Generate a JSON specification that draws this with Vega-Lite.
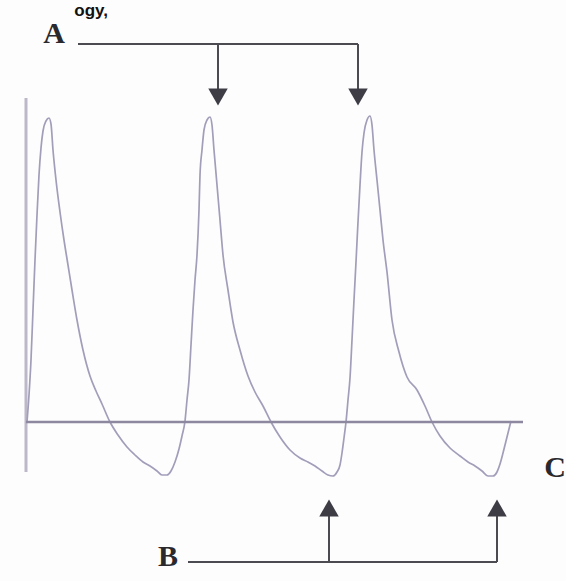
{
  "$schema": "https://vega.github.io/schema/vega-lite/v6.json",
  "width": 566,
  "height": 581,
  "padding": 0,
  "autosize": {"type": "none"},
  "background": "#fdfdfe",
  "config": {"view": {"stroke": null}},
  "datasets": {
    "wave": [
      {"x": 27, "y": 422}, {"x": 29, "y": 395}, {"x": 31, "y": 360}, {"x": 33, "y": 310}, {"x": 35, "y": 260},
      {"x": 37, "y": 215}, {"x": 39, "y": 175}, {"x": 41, "y": 148}, {"x": 43, "y": 131}, {"x": 46, "y": 121},
      {"x": 49, "y": 118}, {"x": 51, "y": 124}, {"x": 53, "y": 150}, {"x": 56, "y": 180}, {"x": 60, "y": 212},
      {"x": 64, "y": 240}, {"x": 68, "y": 265}, {"x": 72, "y": 290}, {"x": 77, "y": 320}, {"x": 83, "y": 350},
      {"x": 90, "y": 376}, {"x": 96, "y": 391}, {"x": 102, "y": 404}, {"x": 110, "y": 422}, {"x": 118, "y": 435},
      {"x": 127, "y": 447}, {"x": 135, "y": 455}, {"x": 143, "y": 462}, {"x": 150, "y": 466}, {"x": 157, "y": 471},
      {"x": 162, "y": 475}, {"x": 167, "y": 475}, {"x": 171, "y": 471}, {"x": 175, "y": 462}, {"x": 179, "y": 449},
      {"x": 182, "y": 436}, {"x": 185, "y": 421}, {"x": 187, "y": 400}, {"x": 189, "y": 380}, {"x": 191, "y": 345},
      {"x": 193, "y": 310}, {"x": 195, "y": 280}, {"x": 197, "y": 255}, {"x": 199, "y": 210}, {"x": 200, "y": 175},
      {"x": 202, "y": 150}, {"x": 204, "y": 130}, {"x": 207, "y": 120}, {"x": 210, "y": 117},
      {"x": 212, "y": 125}, {"x": 214, "y": 150}, {"x": 217, "y": 185}, {"x": 220, "y": 220}, {"x": 223, "y": 255},
      {"x": 228, "y": 290}, {"x": 233, "y": 322}, {"x": 240, "y": 350}, {"x": 248, "y": 376}, {"x": 255, "y": 392},
      {"x": 263, "y": 406}, {"x": 271, "y": 422}, {"x": 280, "y": 437}, {"x": 290, "y": 450}, {"x": 300, "y": 458},
      {"x": 308, "y": 462}, {"x": 315, "y": 466}, {"x": 322, "y": 471}, {"x": 328, "y": 475}, {"x": 333, "y": 476},
      {"x": 337, "y": 472}, {"x": 340, "y": 465}, {"x": 342, "y": 453}, {"x": 344, "y": 438}, {"x": 346, "y": 422},
      {"x": 348, "y": 400}, {"x": 350, "y": 378}, {"x": 352, "y": 340}, {"x": 354, "y": 300}, {"x": 356, "y": 262},
      {"x": 358, "y": 222}, {"x": 360, "y": 185}, {"x": 362, "y": 152}, {"x": 364, "y": 133}, {"x": 367, "y": 120},
      {"x": 370, "y": 116},
      {"x": 372, "y": 125}, {"x": 374, "y": 150}, {"x": 377, "y": 180}, {"x": 380, "y": 210}, {"x": 383, "y": 240},
      {"x": 387, "y": 272}, {"x": 392, "y": 320}, {"x": 399, "y": 352}, {"x": 407, "y": 377}, {"x": 417, "y": 390},
      {"x": 425, "y": 406}, {"x": 432, "y": 422}, {"x": 440, "y": 436}, {"x": 450, "y": 448}, {"x": 460, "y": 456},
      {"x": 468, "y": 462}, {"x": 475, "y": 466}, {"x": 482, "y": 471}, {"x": 488, "y": 476}, {"x": 493, "y": 476},
      {"x": 497, "y": 472}, {"x": 500, "y": 464}, {"x": 503, "y": 453}, {"x": 506, "y": 441}, {"x": 509, "y": 429},
      {"x": 511, "y": 421}
    ],
    "axisLines": [
      {"x": 26, "y": 98, "x2": 26, "y2": 472}
    ],
    "baseLine": [
      {"x": 26, "y": 422, "x2": 523, "y2": 422}
    ],
    "arrows": [
      {"x": 78, "y": 44, "x2": 358, "y2": 44},
      {"x": 218, "y": 44, "x2": 218, "y2": 92},
      {"x": 358, "y": 44, "x2": 358, "y2": 92},
      {"x": 188, "y": 562, "x2": 497, "y2": 562},
      {"x": 329, "y": 562, "x2": 329, "y2": 512},
      {"x": 497, "y": 562, "x2": 497, "y2": 512}
    ],
    "heads": [
      {"x": 218, "y": 97, "dir": "down"},
      {"x": 358, "y": 97, "dir": "down"},
      {"x": 329, "y": 508, "dir": "up"},
      {"x": 497, "y": 508, "dir": "up"}
    ],
    "labels": [
      {"x": 54, "y": 43, "label": "A"},
      {"x": 168, "y": 566, "label": "B"},
      {"x": 555, "y": 477, "label": "C"}
    ],
    "title": [
      {"x": 108, "y": 3, "label": "ogy,"}
    ]
  },
  "encoding": {
    "x": {"field": "x", "type": "quantitative", "scale": {"domain": [0, 566], "nice": false, "zero": false}, "axis": null},
    "y": {"field": "y", "type": "quantitative", "scale": {"domain": [0, 581], "nice": false, "zero": false, "reverse": true}, "axis": null}
  },
  "layer": [
    {
      "data": {"name": "title"},
      "mark": {"type": "text", "align": "right", "baseline": "top", "font": "Liberation Sans", "fontWeight": "bold", "fontSize": 17, "color": "#111111"},
      "encoding": {"text": {"field": "label"}}
    },
    {
      "data": {"name": "axisLines"},
      "mark": {"type": "rule", "color": "#bdb8c9", "strokeWidth": 3},
      "encoding": {"x2": {"field": "x2"}, "y2": {"field": "y2"}}
    },
    {
      "data": {"name": "wave"},
      "mark": {"type": "line", "color": "#a29db9", "strokeWidth": 1.7, "interpolate": "monotone"},
      "encoding": {"order": {"field": "x", "type": "quantitative"}}
    },
    {
      "data": {"name": "baseLine"},
      "mark": {"type": "rule", "color": "#8d879f", "strokeWidth": 2.6},
      "encoding": {"x2": {"field": "x2"}, "y2": {"field": "y2"}}
    },
    {
      "data": {"name": "arrows"},
      "mark": {"type": "rule", "color": "#4d4b52", "strokeWidth": 2},
      "encoding": {"x2": {"field": "x2"}, "y2": {"field": "y2"}}
    },
    {
      "data": {"name": "heads"},
      "mark": {"type": "point", "filled": true, "color": "#3e3c44", "opacity": 1, "size": 380, "strokeWidth": 0},
      "encoding": {
        "shape": {"field": "dir", "type": "nominal", "scale": {"domain": ["down", "up"], "range": ["triangle-down", "triangle-up"]}, "legend": null}
      }
    },
    {
      "data": {"name": "labels"},
      "mark": {"type": "text", "align": "center", "baseline": "alphabetic", "font": "Liberation Serif", "fontWeight": "bold", "fontSize": 30, "color": "#2a2a2e"},
      "encoding": {"text": {"field": "label"}}
    }
  ]
}
